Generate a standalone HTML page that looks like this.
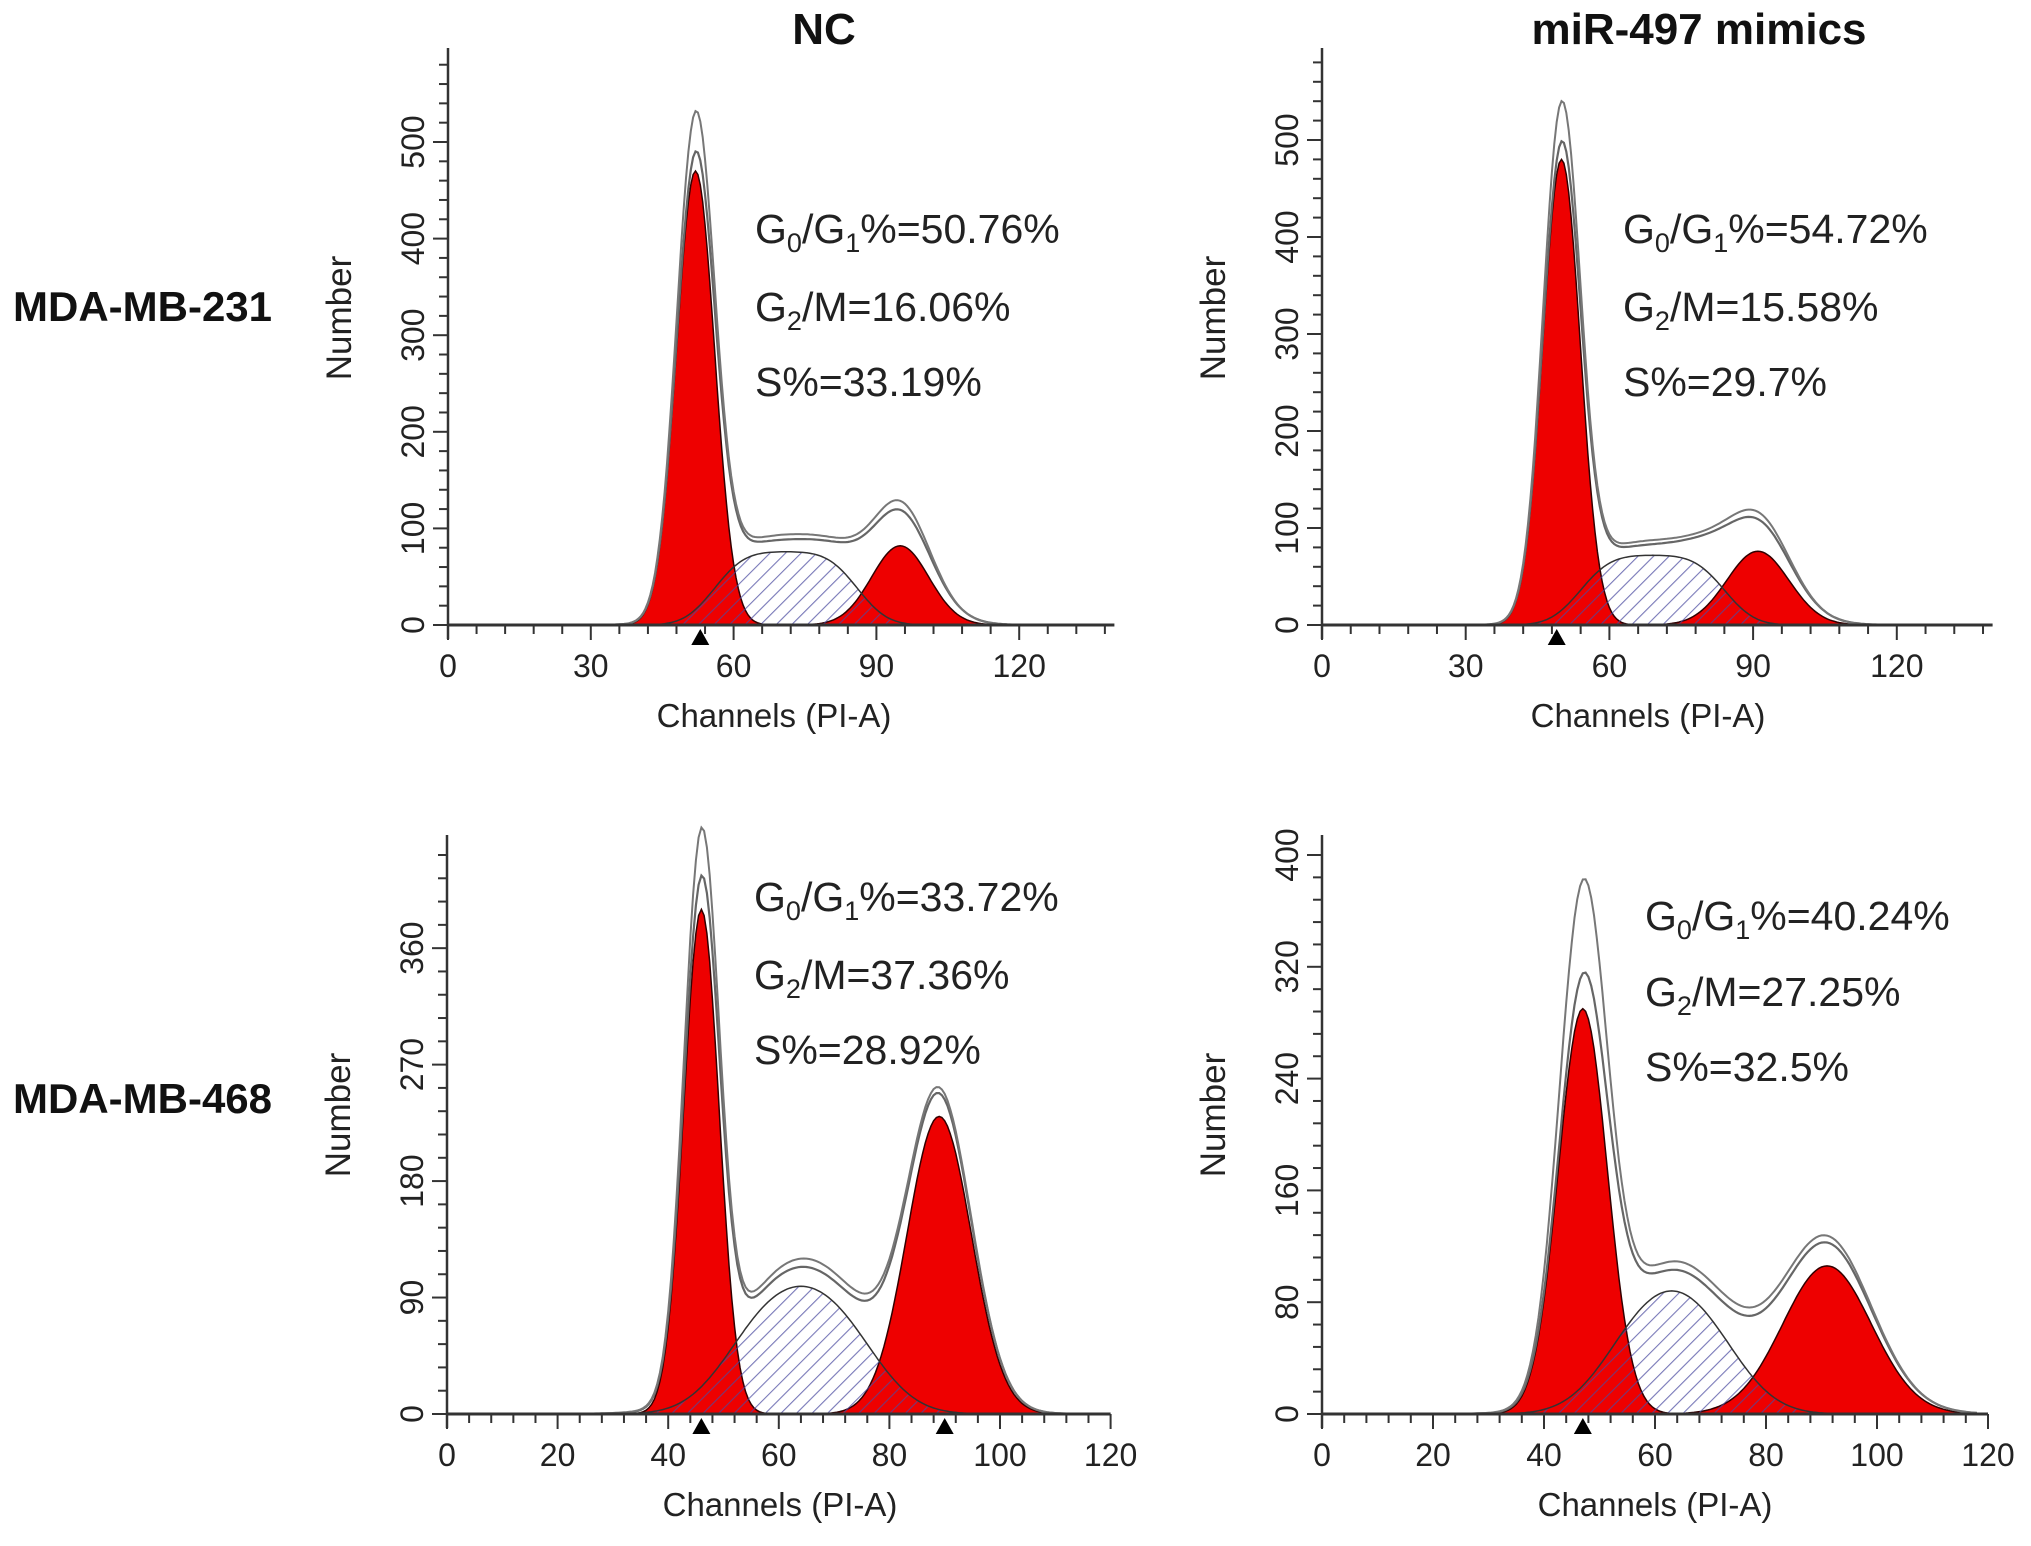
<!DOCTYPE html>
<html><head><meta charset="utf-8">
<style>
html,body{margin:0;padding:0;background:#fff;}
svg{display:block;font-family:"Liberation Sans",Arial,sans-serif;}
</style></head>
<body>
<svg id="fig" width="2031" height="1546" viewBox="0 0 2031 1546" xmlns="http://www.w3.org/2000/svg">
<defs>
<pattern id="hatch" patternUnits="userSpaceOnUse" width="11" height="11" patternTransform="rotate(45)">
<line x1="0" y1="0" x2="0" y2="11" stroke="#4a4aa0" stroke-width="2.2" stroke-opacity="0.75"/>
</pattern>
</defs>
<text x="824" y="44" text-anchor="middle" font-size="44" font-weight="bold" fill="#111">NC</text>
<text x="1699" y="44" text-anchor="middle" font-size="44" font-weight="bold" fill="#111">miR-497 mimics</text>
<text x="13" y="321" font-size="42" font-weight="bold" fill="#111">MDA-MB-231</text>
<text x="13" y="1113" font-size="42" font-weight="bold" fill="#111">MDA-MB-468</text>
</svg>
<script>
// Per-panel data: [mean, sd, height] for G1 and G2; S-phase [start, end, height, edgeSd]
const panelNames = ["nc-231", "mimics-231", "nc-468", "mimics-468"];
const g1Params = [[52, 4.0, 470], [50, 3.9, 480], [46, 3.2, 390], [47, 4.4, 290]];
const g2Params = [[95, 6.0, 82], [91, 6.5, 76], [89, 5.8, 230], [91, 8.0, 106]];
const sParams = [[56, 86, 76, 5], [54, 84, 72, 5], [52, 76, 108, 7], [53, 73, 104, 7]];
const rawPeakBoost = [40, 40, 35, 65];
const rawG2Boost = [38, 30, 12, 14];
const rawMidBoost = [18, 15, 22, 22];
const g1Markers = [[53], [49], [46, 90], [47]];
const statG1 = ["50.76%", "54.72%", "33.72%", "40.24%"];
const statG2 = ["16.06%", "15.58%", "37.36%", "27.25%"];
const statS = ["33.19%", "29.7%", "28.92%", "32.5%"];
const xTickLabels = [[0, 30, 60, 90, 120], [0, 30, 60, 90, 120], [0, 20, 40, 60, 80, 100, 120], [0, 20, 40, 60, 80, 100, 120]];
const yTickLabels = [[0, 100, 200, 300, 400, 500], [0, 100, 200, 300, 400, 500], [0, 90, 180, 270, 360], [0, 80, 160, 240, 320, 400]];

// layout (not data)
const layout = [
 {ox:448, oy:625, pxX:4.76, pxY:0.966, xMax:140, yTop:48, xMinor:6, yMinor:20, tx:755, ty:[243,321,396]},
 {ox:1322, oy:625, pxX:4.79, pxY:0.97, xMax:140, yTop:48, xMinor:6, yMinor:20, tx:1623, ty:[243,321,396]},
 {ox:447, oy:1414, pxX:5.53, pxY:1.294, xMax:120, yTop:835, xMinor:4, yMinor:18, tx:754, ty:[911,989,1064]},
 {ox:1322, oy:1414, pxX:5.55, pxY:1.3975, xMax:120, yTop:835, xMinor:4, yMinor:16, tx:1645, ty:[930,1006,1081]}
];
const NS = "http://www.w3.org/2000/svg";
const svg = document.getElementById("fig");
function mk(tag, attrs, parent){const e=document.createElementNS(NS,tag);for(const k in attrs)e.setAttribute(k,attrs[k]);(parent||svg).appendChild(e);return e;}
function gauss(x,m,s,h){return h*Math.exp(-0.5*((x-m)/s)**2);}
function erf(x){const t=1/(1+0.3275911*Math.abs(x));const y=1-(((((1.061405429*t-1.453152027)*t)+1.421413741)*t-0.284496736)*t+0.254829592)*t*Math.exp(-x*x);return x>=0?y:-y;}
function Phi(z){return 0.5*(1+erf(z/Math.SQRT2));}

panelNames.forEach((name,i)=>{
  const L=layout[i];
  const g=mk("g",{});
  
  
  const X=v=>L.ox+v*L.pxX, Y=v=>L.oy-v*L.pxY;
  const [m1,s1,h1]=g1Params[i],[m2,s2,h2]=g2Params[i],[sa,sb,sh,se]=sParams[i];
  const G1=x=>gauss(x,m1,s1,h1), G2=x=>gauss(x,m2,s2,h2);
  const S=x=>sh*(Phi((x-sa)/se)-Phi((x-sb)/se));
  const xs=[];for(let x=20;x<=L.xMax-2;x+=0.5)xs.push(x);
  const area=f=>"M"+X(xs[0])+","+L.oy+" "+xs.map(x=>"L"+X(x).toFixed(1)+","+Y(f(x)).toFixed(1)).join(" ")+" L"+X(xs[xs.length-1])+","+L.oy+"Z";
  const line=f=>"M"+xs.map(x=>X(x).toFixed(1)+","+Y(f(x)).toFixed(1)).join(" L");
  const sw=mk("path",{d:area(S),fill:"#fff"},g);
  
  
  const r1=mk("path",{d:area(G1),fill:"#ee0000",stroke:"#300",["stroke-width"]:1.5},g);
  
  
  const r2=mk("path",{d:area(G2),fill:"#ee0000",stroke:"#300",["stroke-width"]:1.5},g);
  
  
  const sp=mk("path",{d:area(S),fill:"url(#hatch)",stroke:"#333",["stroke-width"]:1.5},g);
  
  
  const env=x=>G1(x)+G2(x)+S(x);
  const fit=x=>env(x)+gauss(x,m2,s2*1.3,rawG2Boost[i]*0.8)+gauss(x,(m1+m2)/2,(m2-m1)/3,rawMidBoost[i]*0.7);
  const e1=mk("path",{d:line(fit),fill:"none",stroke:"#666",["stroke-width"]:2.2},g);
  
  
  const raw=x=>env(x)+gauss(x,m1,s1*0.9,rawPeakBoost[i])+gauss(x,m2,s2*1.2,rawG2Boost[i])+gauss(x,(m1+m2)/2,(m2-m1)/3,rawMidBoost[i]);
  const e2=mk("path",{d:line(raw),fill:"none",stroke:"#777",["stroke-width"]:2},g);
  
  
  // axes
  const ax=mk("line",{x1:L.ox,y1:L.oy,x2:X(L.xMax),y2:L.oy,stroke:"#333",["stroke-width"]:3},g);
  
  
  const ay=mk("line",{x1:L.ox,y1:L.oy+14,x2:L.ox,y2:L.yTop,stroke:"#333",["stroke-width"]:2.5},g);
  
  
  const xl=xTickLabels[i];
  for(let v=0;v<=L.xMax+0.01;v+=L.xMinor){
    const major=xl.includes(v);
    mk("line",{x1:X(v),y1:L.oy,x2:X(v),y2:L.oy+(major?15:9),stroke:"#333",["stroke-width"]:2},g);
  }
  xl.forEach(v=>{const t=mk("text",{x:X(v),y:L.oy+52,"text-anchor":"middle","font-size":32,fill:"#222"},g);t.textContent=v;
    
    });
  const yl=yTickLabels[i];
  const yMaxV=(L.oy-L.yTop)/L.pxY;
  for(let v=0;v<=yMaxV;v+=L.yMinor){
    const major=yl.includes(v);
    mk("line",{x1:L.ox,y1:Y(v),x2:L.ox-(major?15:9),y2:Y(v),stroke:"#333",["stroke-width"]:2},g);
  }
  yl.forEach(v=>{const t=mk("text",{x:0,y:0,transform:`translate(${L.ox-24},${Y(v)}) rotate(-90)`,"text-anchor":"middle","font-size":32,fill:"#222"},g);t.textContent=v;
    
    });
  const xt=mk("text",{x:L.ox+(i<2?326:333),y:L.oy+102,"text-anchor":"middle","font-size":33,fill:"#222"},g);xt.textContent="Channels (PI-A)";
  
  
  const yt=mk("text",{x:0,y:0,transform:`translate(${L.ox-97},${i<2?318:1115}) rotate(-90)`,"text-anchor":"middle","font-size":35,fill:"#222"},g);yt.textContent="Number";
  
  
  g1Markers[i].forEach(v=>{const p=mk("path",{d:`M${X(v)-9},${L.oy+20} L${X(v)+9},${L.oy+20} L${X(v)},${L.oy+4}Z`,fill:"#000"},g);
    
    });
  // stats text
  const t1=mk("text",{x:L.tx,y:L.ty[0],"font-size":41,fill:"#222"},g);
  t1.innerHTML=`G<tspan font-size="27" dy="9">0</tspan><tspan dy="-9">/G</tspan><tspan font-size="27" dy="9">1</tspan><tspan dy="-9">%=${statG1[i]}</tspan>`;
  
  
  const t2=mk("text",{x:L.tx,y:L.ty[1],"font-size":41,fill:"#222"},g);
  t2.innerHTML=`G<tspan font-size="27" dy="9">2</tspan><tspan dy="-9">/M=${statG2[i]}</tspan>`;
  
  
  const t3=mk("text",{x:L.tx,y:L.ty[2],"font-size":41,fill:"#222"},g);
  t3.textContent="S%="+statS[i];
  
  
});
</script>
</body></html>
